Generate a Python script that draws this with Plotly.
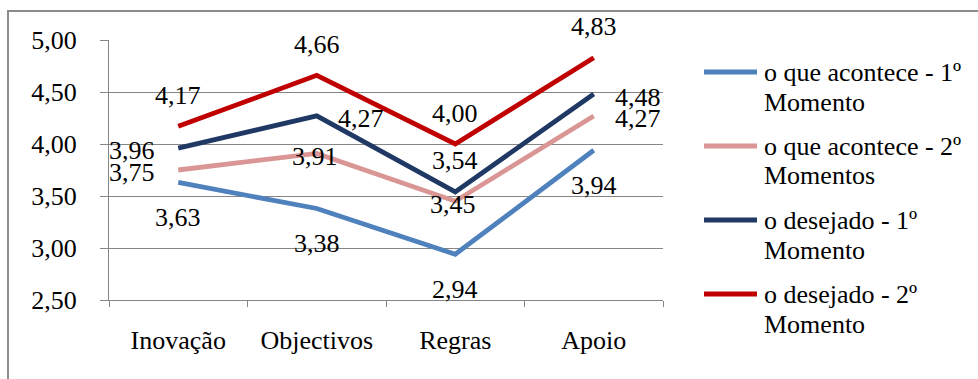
import plotly.graph_objects as go

# Data
categories = ["Inovação", "Objectivos", "Regras", "Apoio"]
acontece_1 = [3.63, 3.38, 2.94, 3.94]
acontece_2 = [3.75, 3.91, 3.45, 4.27]
desejado_1 = [3.96, 4.27, 3.54, 4.48]
desejado_2 = [4.17, 4.66, 4.00, 4.83]
series_names = [
    "o que acontece - 1º\nMomento",
    "o que acontece - 2º\nMomentos",
    "o desejado - 1º\nMomento",
    "o desejado - 2º\nMomento",
]
y_ticks = [2.5, 3.0, 3.5, 4.0, 4.5, 5.0]

# Styling
series_values = [acontece_1, acontece_2, desejado_1, desejado_2]
series_colors = ["#4F81BD", "#D99694", "#1F3864", "#C00000"]
label_positions = [
    ["below", "below", "below", "below"],
    ["left", "center", "center", "right"],
    ["left", "right", "above", "right"],
    ["above", "above", "above", "above"],
]
offsets = {
    "above": (0, 31),
    "below": (0, -35),
    "left": (-46, -2),
    "right": (44, -3),
    "center": (-2, -3),
}
FONT = "Liberation Serif"
FS = 26
GRID = "#868686"

W, H = 978, 379
ML, MR, MT, MB = 109, 315, 40, 79
plot_w = W - ML - MR
plot_h = H - MT - MB


def px_x(px):
    return (px - ML) / plot_w


def px_y(py):
    return (H - MB - py) / plot_h


def fmt(v):
    return f"{v:.2f}".replace(".", ",")


fig = go.Figure()
annotations = []
shapes = []

for vals, color, name, pos in zip(series_values, series_colors, series_names, label_positions):
    fig.add_trace(go.Scatter(
        x=categories, y=vals, mode="lines",
        line=dict(color=color, width=4.8),
        name=name.replace("\n", " "), showlegend=False,
    ))
    for cat, v, p in zip(categories, vals, pos):
        dx, dy = offsets[p]
        annotations.append(dict(
            x=cat, y=v, xref="x", yref="y", text=fmt(v), showarrow=False,
            xshift=dx, yshift=dy, xanchor="center", yanchor="middle",
            font=dict(family=FONT, size=FS, color="black"),
        ))

# Legend drawn at the right of the plot
for i, (color, name) in enumerate(zip(series_colors, series_names)):
    top = 73 + i * 74
    shapes.append(dict(
        type="line", xref="paper", yref="paper",
        x0=px_x(704), x1=px_x(757), y0=px_y(top - 1), y1=px_y(top - 1),
        line=dict(color=color, width=4.8),
    ))
    for j, line_text in enumerate(name.split("\n")):
        annotations.append(dict(
            x=px_x(762), y=px_y(top - 1 + j * 30), xref="paper", yref="paper",
            text=line_text, showarrow=False, xanchor="left", yanchor="middle",
            font=dict(family=FONT, size=FS, color="black"),
        ))

# Outer chart border
shapes.append(dict(
    type="rect", xref="paper", yref="paper",
    x0=px_x(8), x1=px_x(W + 20), y0=px_y(11), y1=px_y(H + 20),
    line=dict(color="#8C8C8C", width=2), fillcolor="rgba(0,0,0,0)", layer="below",
))

fig.update_layout(
    width=W, height=H,
    margin=dict(l=ML, r=MR, t=MT, b=MB, pad=0),
    paper_bgcolor="white", plot_bgcolor="white",
    separators=",.",
    font=dict(family=FONT, size=FS, color="black"),
    annotations=annotations, shapes=shapes,
    showlegend=False,
)
fig.update_xaxes(
    type="category", tickson="boundaries", ticks="outside", ticklen=6,
    tickcolor=GRID, tickwidth=1.3, showline=True, linecolor=GRID, linewidth=1.3,
    showgrid=False, range=[-0.5, 3.5], ticklabelstandoff=17,
    tickfont=dict(family=FONT, size=FS, color="black"),
)
fig.update_yaxes(
    range=[2.5, 5.0], tickvals=y_ticks, tickformat=".2f",
    ticks="outside", ticklen=8, tickcolor=GRID, tickwidth=1.3,
    showline=True, linecolor=GRID, linewidth=1.3,
    showgrid=True, gridcolor=GRID, gridwidth=1.3, zeroline=False,
    ticklabelstandoff=18,
    tickfont=dict(family=FONT, size=FS, color="black"),
)

fig.write_html("out.html")
